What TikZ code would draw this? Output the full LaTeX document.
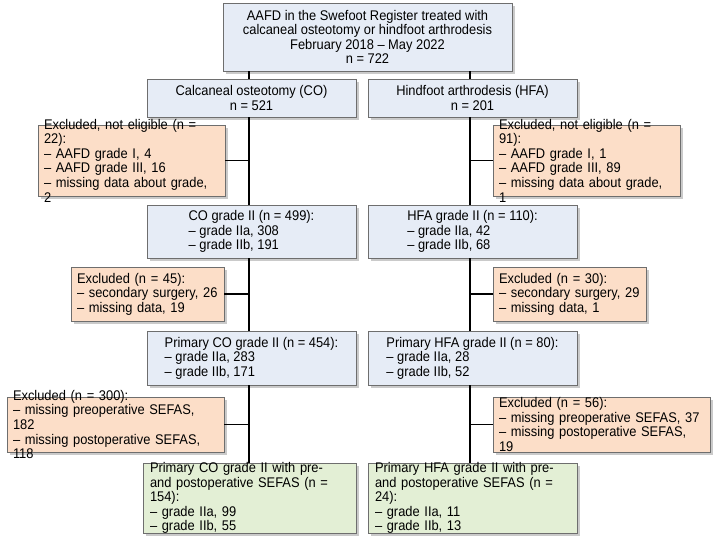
\documentclass[tikz,border=0pt]{standalone}
\usepackage{fontspec}
\setmainfont{Liberation Sans}[FakeStretch=0.92]
\usetikzlibrary{shadows}
\definecolor{bl}{HTML}{E6ECF6}
\definecolor{og}{HTML}{FCDEC8}
\definecolor{gr}{HTML}{E3EFD5}
\definecolor{bd}{HTML}{6E6E6E}
\tikzset{
  bx/.style={draw=bd,line width=0.8pt,inner sep=0pt,outer sep=0pt,
    drop shadow={shadow xshift=2.5pt,shadow yshift=-2.5pt,fill=black!35,opacity=0.6}},
  blue/.style={bx,fill=bl},
  orng/.style={bx,fill=og},
  grn/.style={bx,fill=gr},
  ln/.style={line width=1.5pt,black}
}
% name, x1, y1, x2, y2, style, align-spec, text
\newcommand\mybox[8]{%
  \node[#6,minimum width={#4pt-#2pt},minimum height={#5pt-#3pt}] (#1) at ({(#2+#4)/2},{(#3+#5)/2}) {};
  \node[align=left,font=\fontsize{14}{14.6}\selectfont,inner sep=0pt,#7] at (#1) {#8};}
\begin{document}
\begin{tikzpicture}[x=1pt,y=-1pt]
\useasboundingbox (0,0) rectangle (718,544);
\coordinate (cl) at (249,0);
\coordinate (cr) at (470,0);
\mybox{top}{223}{3}{512}{71}{blue}{align=center}{AAFD in the Swefoot Register treated with\\calcaneal osteotomy or hindfoot arthrodesis\\February 2018 – May 2022\\n = 722}
\mybox{co}{147}{79}{356}{117}{blue}{align=center}{Calcaneal osteotomy (CO)\\n = 521}
\mybox{hfa}{368}{79}{577}{117}{blue}{align=center}{Hindfoot arthrodesis (HFA)\\n = 201}
\mybox{exa}{38}{125}{225}{196}{orng}{text width=175pt}{Excluded, not eligible (n = 22):\\– AAFD grade I, 4\\– AAFD grade III, 16\\– missing data about grade, 2}
\mybox{exb}{493}{125}{680}{196}{orng}{text width=175pt}{Excluded, not eligible (n = 91):\\– AAFD grade I, 1\\– AAFD grade III, 89\\– missing data about grade, 1}
\mybox{coa}{147}{205}{356}{258}{blue}{}{CO grade II (n = 499):\\– grade IIa, 308\\– grade IIb, 191}
\mybox{hfaa}{368}{205}{577}{258}{blue}{}{HFA grade II (n = 110):\\– grade IIa, 42\\– grade IIb, 68}
\mybox{exc}{71}{267}{224}{321}{orng}{text width=141pt}{Excluded (n = 45):\\– secondary surgery, 26\\– missing data, 19}
\mybox{exd}{493}{267}{646}{321}{orng}{text width=141pt}{Excluded (n = 30):\\– secondary surgery, 29\\– missing data, 1}
\mybox{cob}{147}{331}{356}{385}{blue}{}{Primary CO grade II (n = 454):\\– grade IIa, 283\\– grade IIb, 171}
\mybox{hfab}{368}{331}{577}{385}{blue}{}{Primary HFA grade II (n = 80):\\– grade IIa, 28\\– grade IIb, 52}
\mybox{exe}{7}{397}{224}{452}{orng}{text width=205pt}{Excluded (n = 300):\\– missing preoperative SEFAS, 182\\– missing postoperative SEFAS, 118}
\mybox{exf}{493}{397}{710}{452}{orng}{text width=205pt}{Excluded (n = 56):\\– missing preoperative SEFAS, 37\\– missing postoperative SEFAS, 19}
\mybox{coc}{143}{463}{356}{533}{grn}{text width=199pt}{Primary CO grade II with pre-\\and postoperative SEFAS (n = 154):\\– grade IIa, 99\\– grade IIb, 55}
\mybox{hfac}{368}{463}{577}{533}{grn}{text width=195pt}{Primary HFA grade II with pre-\\and postoperative SEFAS (n = 24):\\– grade IIa, 11\\– grade IIb, 13}
\draw[ln] (top.south -| cl) -- (co.north -| cl);
\draw[ln] (top.south -| cr) -- (hfa.north -| cr);
\draw[ln] (co.south -| cl) -- (coa.north -| cl);
\draw[ln] (coa.south -| cl) -- (cob.north -| cl);
\draw[ln] (cob.south -| cl) -- (coc.north -| cl);
\draw[ln] (hfa.south -| cr) -- (hfaa.north -| cr);
\draw[ln] (hfaa.south -| cr) -- (hfab.north -| cr);
\draw[ln] (hfab.south -| cr) -- (hfac.north -| cr);
\draw[ln] (exa.east) -- (exa.east -| cl);
\draw[ln] (exc.east) -- (exc.east -| cl);
\draw[ln] (exe.east) -- (exe.east -| cl);
\draw[ln] (exb.west) -- (exb.west -| cr);
\draw[ln] (exd.west) -- (exd.west -| cr);
\draw[ln] (exf.west) -- (exf.west -| cr);
\end{tikzpicture}
\end{document}
